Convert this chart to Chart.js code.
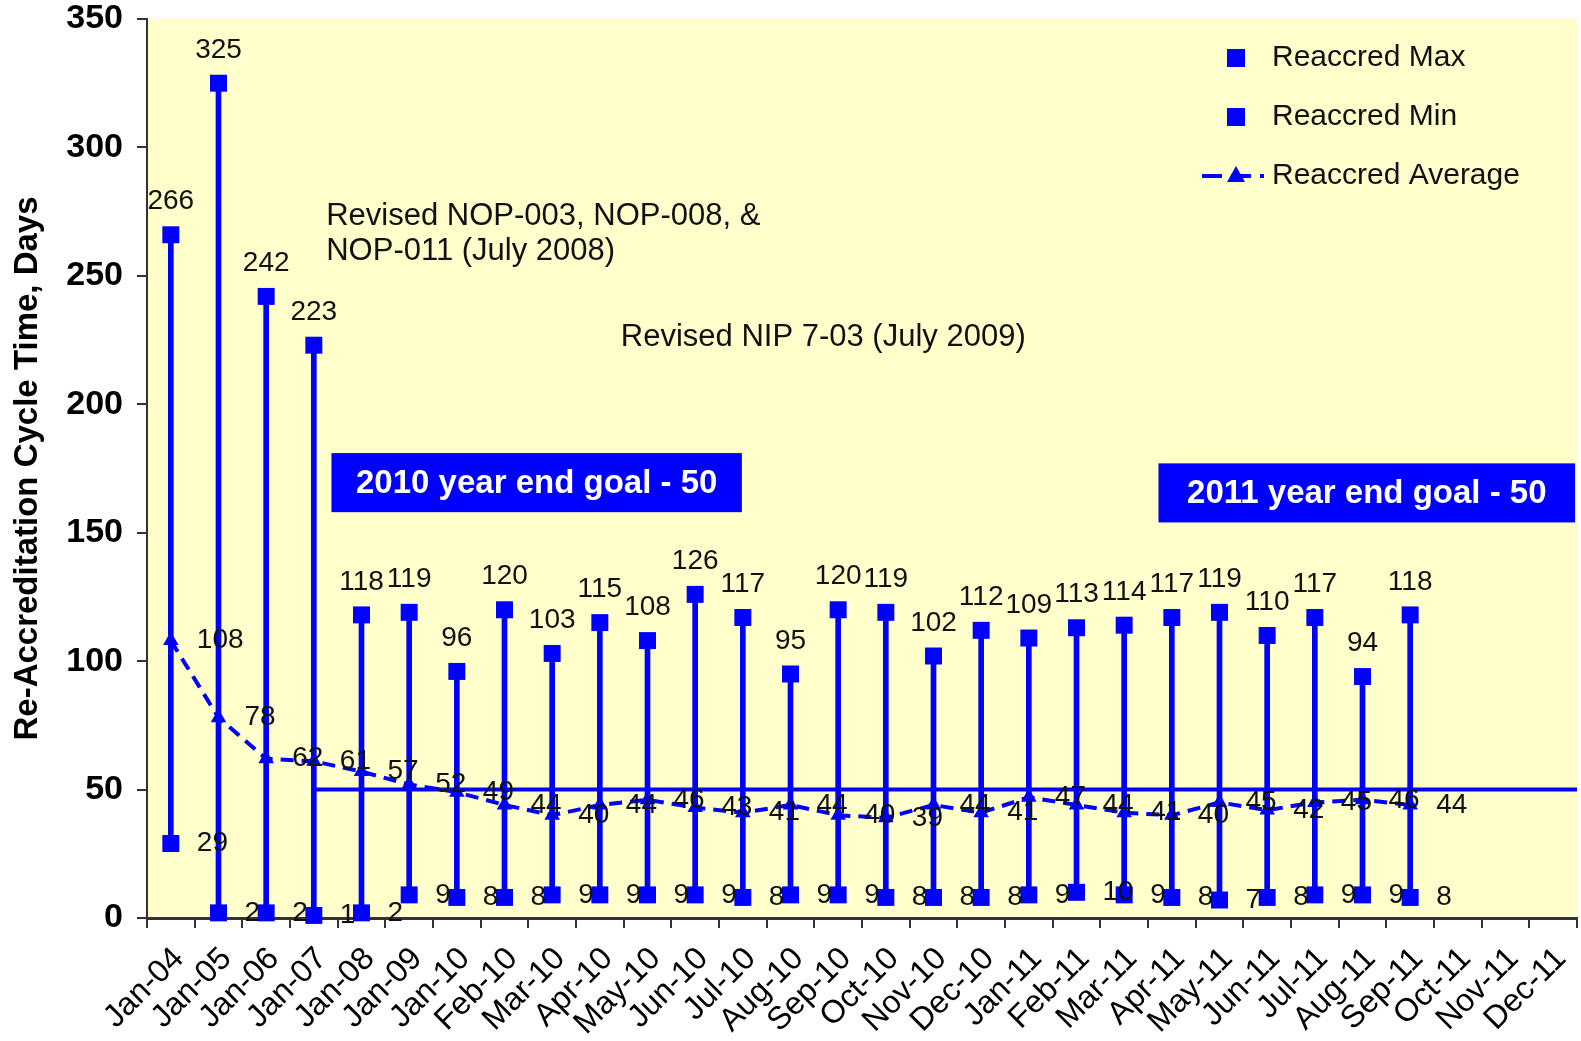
<!DOCTYPE html>
<html>
<head>
<meta charset="utf-8">
<title>Re-Accreditation Cycle Time</title>
<script src="https://cdn.jsdelivr.net/npm/chart.js@4.4.0/dist/chart.umd.min.js"></script>
<style>
  body { margin: 0; background: #fff; }
  #wrap { width: 1581px; height: 1041px; }
</style>
</head>
<body>
<div id="wrap"><canvas id="reaccredChart" width="1581" height="1041"></canvas></div>
<script>
const months = [
  "Jan-04", "Jan-05", "Jan-06", "Jan-07", "Jan-08", "Jan-09", "Jan-10", "Feb-10",
  "Mar-10", "Apr-10", "May-10", "Jun-10", "Jul-10", "Aug-10", "Sep-10", "Oct-10",
  "Nov-10", "Dec-10", "Jan-11", "Feb-11", "Mar-11", "Apr-11", "May-11", "Jun-11",
  "Jul-11", "Aug-11", "Sep-11", "Oct-11", "Nov-11", "Dec-11"
];
const reaccredMax = [266, 325, 242, 223, 118, 119, 96, 120, 103, 115, 108, 126, 117, 95,
  120, 119, 102, 112, 109, 113, 114, 117, 119, 110, 117, 94, 118];
const reaccredMin = [29, 2, 2, 1, 2, 9, 8, 8, 9, 9, 9, 9, 8, 9, 9, 8, 8, 8, 9, 10, 9, 8,
  7, 8, 9, 9, 8];
const reaccredAvg = [108, 78, 62, 61, 57, 52, 49, 44, 40, 44, 46, 43, 41, 44, 40, 39, 44,
  41, 47, 44, 41, 40, 45, 42, 45, 46, 44];
const yTicks = [0, 50, 100, 150, 200, 250, 300, 350];
const goalValue = 50;
const goalFrom = "Jan-07";

// free text on the plot, anchored in axis units [category index, value]
const notes = [
  { lines: ["Revised NOP-003, NOP-008, &", "NOP-011 (July 2008)"], at: [3.26, 273] },
  { lines: ["Revised NIP 7-03 (July 2009)"], at: [9.44, 226] }
];
const goalBoxes = [
  { text: "2010 year end goal - 50", from: [3.37, 181], to: [11.98, 158] },
  { text: "2011 year end goal - 50", from: [20.72, 177], to: [29.46, 154] }
];

const BLUE = "#0000FF";
const FONT = "'Liberation Sans', Arial, sans-serif";
Chart.defaults.font.family = FONT;

const plotBackground = {
  id: "plotBackground",
  beforeDraw(chart) {
    const { ctx, chartArea: a } = chart;
    ctx.save();
    ctx.fillStyle = "#FFFFCC";
    ctx.fillRect(a.left, a.top, a.right - a.left, a.bottom - a.top);
    ctx.restore();
  }
};

const goalLine = {
  id: "goalLine",
  afterDatasetsDraw(chart) {
    const { ctx, chartArea: a, scales } = chart;
    const y = scales.y.getPixelForValue(goalValue);
    ctx.save();
    ctx.strokeStyle = BLUE;
    ctx.lineWidth = 4;
    ctx.beginPath();
    ctx.moveTo(scales.x.getPixelForValue(months.indexOf(goalFrom)), y);
    ctx.lineTo(a.right, y);
    ctx.stroke();
    ctx.restore();
  }
};

const valueLabels = {
  id: "valueLabels",
  afterDatasetsDraw(chart) {
    const ctx = chart.ctx;
    ctx.save();
    ctx.font = "28px " + FONT;
    ctx.fillStyle = "#111";
    ctx.textBaseline = "middle";
    chart.data.datasets.forEach((ds, i) => {
      if (!ds.labelAt) return;
      chart.getDatasetMeta(i).data.forEach((pt, j) => {
        const v = ds.data[j];
        if (v == null) return;
        if (ds.labelAt === "above") {
          ctx.textAlign = "center";
          ctx.fillText(v, pt.x, pt.y - 33);
        } else {
          ctx.textAlign = "left";
          ctx.fillText(v, pt.x + 26, pt.y);
        }
      });
    });
    ctx.restore();
  }
};

const plotNotes = {
  id: "plotNotes",
  afterDraw(chart) {
    const { ctx, scales: { x, y } } = chart;
    ctx.save();
    ctx.textBaseline = "middle";
    ctx.fillStyle = "#111";
    ctx.font = "31px " + FONT;
    ctx.textAlign = "left";
    notes.forEach(n => {
      const px = x.getPixelForValue(n.at[0]);
      const py = y.getPixelForValue(n.at[1]);
      n.lines.forEach((line, k) => ctx.fillText(line, px, py + k * 35));
    });
    ctx.font = "bold 33px " + FONT;
    ctx.textAlign = "center";
    goalBoxes.forEach(b => {
      const l = x.getPixelForValue(b.from[0]), t = y.getPixelForValue(b.from[1]);
      const r = x.getPixelForValue(b.to[0]), btm = y.getPixelForValue(b.to[1]);
      ctx.fillStyle = BLUE;
      ctx.fillRect(l, t, r - l, btm - t);
      ctx.fillStyle = "#fff";
      ctx.fillText(b.text, (l + r) / 2, (t + btm) / 2 + 1);
    });
    ctx.restore();
  }
};

const insideLegend = {
  id: "insideLegend",
  afterDraw(chart) {
    const { ctx, chartArea: a } = chart;
    const mx = a.right - 341, tx = a.right - 305;
    let rowY = a.top + 39;
    ctx.save();
    ctx.font = "30px " + FONT;
    ctx.textBaseline = "middle";
    ctx.textAlign = "left";
    chart.data.datasets.filter(ds => ds.inLegend).forEach(ds => {
      ctx.fillStyle = BLUE;
      ctx.strokeStyle = BLUE;
      if (ds.pointStyle === "rect") {
        ctx.fillRect(mx - 9, rowY - 9, 18, 18);
      } else {
        ctx.lineWidth = 4;
        ctx.setLineDash([20, 9]);
        ctx.beginPath();
        ctx.moveTo(mx - 34, rowY);
        ctx.lineTo(mx + 28, rowY);
        ctx.stroke();
        ctx.setLineDash([]);
        ctx.beginPath();
        ctx.moveTo(mx, rowY - 10);
        ctx.lineTo(mx - 9, rowY + 6);
        ctx.lineTo(mx + 9, rowY + 6);
        ctx.closePath();
        ctx.fill();
      }
      ctx.fillStyle = "#111";
      ctx.fillText(ds.label, tx, rowY);
      rowY += 59;
    });
    ctx.restore();
  }
};

const data = {
  labels: months,
  datasets: [
    {
      type: "line",
      label: "Reaccred Max",
      data: reaccredMax,
      showLine: false,
      pointStyle: "rect",
      pointRadius: 12,
      pointBorderWidth: 0,
      pointBackgroundColor: BLUE,
      clip: false,
      labelAt: "above",
      inLegend: true,
      order: 0
    },
    {
      type: "line",
      label: "Reaccred Min",
      data: reaccredMin,
      showLine: false,
      pointStyle: "rect",
      pointRadius: 12,
      pointBorderWidth: 0,
      pointBackgroundColor: BLUE,
      clip: false,
      labelAt: "right",
      inLegend: true,
      order: 0
    },
    {
      type: "line",
      label: "Reaccred Average",
      data: reaccredAvg,
      borderColor: BLUE,
      borderWidth: 4,
      borderDash: [13, 8],
      tension: 0,
      pointStyle: "triangle",
      pointRadius: 9,
      pointBorderWidth: 0,
      pointBackgroundColor: BLUE,
      labelAt: "right",
      inLegend: true,
      order: 1
    },
    {
      type: "bar",
      label: "High-Low",
      data: reaccredMin.map((m, i) => [m, reaccredMax[i]]),
      backgroundColor: BLUE,
      barThickness: 5,
      order: 2
    }
  ]
};

const config = {
  type: "bar",
  data: data,
  options: {
    responsive: false,
    animation: false,
    events: [],
    layout: { autoPadding: false, padding: { top: 19, right: 4, bottom: 0, left: 0 } },
    plugins: {
      legend: { display: false },
      tooltip: { enabled: false }
    },
    scales: {
      x: {
        ticks: {
          color: "#000",
          font: { size: 32 },
          minRotation: 45,
          maxRotation: 45,
          autoSkip: false,
          padding: 12,
          labelOffset: 8
        },
        grid: { drawOnChartArea: false, offset: true, tickLength: 10, color: "#333", lineWidth: 2 },
        border: { color: "#333", width: 3 },
        afterFit(scale) {
          scale.height = 123;
          scale.paddingLeft = 0;
          scale.paddingRight = 0;
        }
      },
      y: {
        min: 0,
        max: 350,
        afterBuildTicks(scale) { scale.ticks = yTicks.map(v => ({ value: v })); },
        ticks: { color: "#000", font: { size: 34, weight: "bold" }, padding: 14 },
        grid: { drawOnChartArea: false, tickLength: 10, color: "#333", lineWidth: 2 },
        border: { color: "#333", width: 2 },
        title: {
          display: true,
          text: "Re-Accreditation Cycle Time, Days",
          color: "#000",
          font: { size: 33, weight: "bold" },
          padding: { top: 8, bottom: 0 }
        },
        afterFit(scale) {
          scale.width = 147;
          scale.paddingTop = 0;
          scale.paddingBottom = 0;
        }
      }
    }
  },
  plugins: [plotBackground, goalLine, valueLabels, plotNotes, insideLegend]
};

const reaccredChart = new Chart(document.getElementById("reaccredChart"), config);
</script>
</body>
</html>
